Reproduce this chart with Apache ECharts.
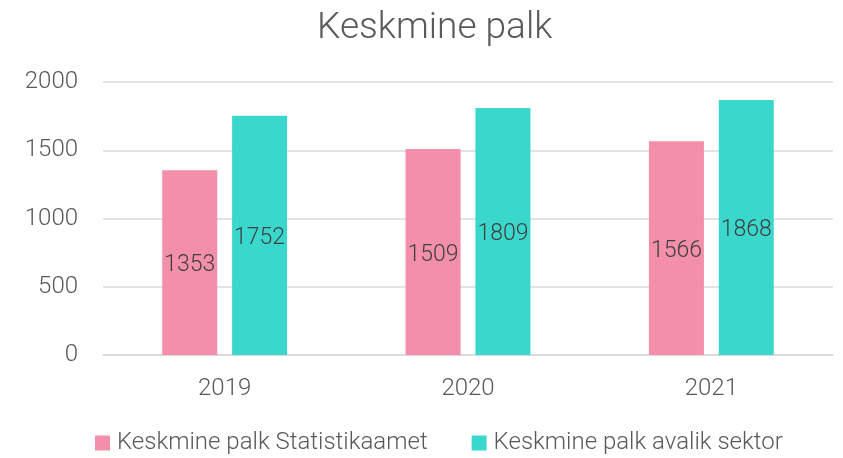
<!DOCTYPE html>
<html>
<head>
<meta charset="utf-8">
<style>
    html, body { margin: 0; padding: 0; background: #fff; }
    #chart { width: 843px; height: 458px; }
</style>
<script src="https://cdn.jsdelivr.net/npm/echarts@6/dist/echarts.min.js"></script>
</head>
<body>
<div id="chart"></div>
<script>
    var years = ['2019', '2020', '2021'];
    var statistikaamet = [1353, 1509, 1566];
    var avalikSektor = [1752, 1809, 1868];
    var yTicks = { min: 0, max: 2000, interval: 500 };

    var font = 'Roboto';
    var textColor = '#595959';

    var myChart = echarts.init(document.getElementById('chart'));
    var labelStyle = {
        show: true,
        position: 'inside',
        offset: [0, 3],
        color: '#404040',
        fontFamily: font,
        fontWeight: 300,
        fontSize: 23
    };
    var options = {
        animation: false,
        title: {
            text: 'Keskmine palk',
            left: 312,
            top: 5,
            textStyle: {
                color: textColor,
                fontFamily: font,
                fontWeight: 300,
                fontSize: 37
            }
        },
        legend: {
            top: 426,
            left: 90,
            itemWidth: 15,
            itemHeight: 15,
            itemGap: 44,
            icon: 'rect',
            textStyle: {
                color: textColor,
                fontFamily: font,
                fontWeight: 300,
                fontSize: 24,
                padding: [0, 0, 0, 2]
            }
        },
        grid: {
            left: 103,
            right: 10,
            top: 82,
            bottom: 103
        },
        xAxis: {
            type: 'category',
            data: years,
            axisTick: { show: false },
            axisLine: { lineStyle: { color: '#d9d9d9', width: 1.5 } },
            axisLabel: {
                color: textColor,
                fontFamily: font,
                fontWeight: 300,
                fontSize: 24,
                margin: 22
            }
        },
        yAxis: {
            type: 'value',
            min: yTicks.min,
            max: yTicks.max,
            interval: yTicks.interval,
            axisLine: { show: false },
            axisTick: { show: false },
            splitLine: { lineStyle: { color: '#d9d9d9', width: 1.5 } },
            axisLabel: {
                color: textColor,
                fontFamily: font,
                fontWeight: 300,
                fontSize: 24,
                margin: 25,
                formatter: function (v) { return String(v); }
            }
        },
        series: [
            {
                name: 'Keskmine palk Statistikaamet',
                type: 'bar',
                data: statistikaamet,
                barWidth: 55,
                barGap: '27%',
                itemStyle: { color: '#F48FAB' },
                label: labelStyle
            },
            {
                name: 'Keskmine palk avalik sektor',
                type: 'bar',
                data: avalikSektor,
                barWidth: 55,
                itemStyle: { color: '#3AD8CC' },
                label: labelStyle
            }
        ]
    };
    myChart.setOption(options);
</script>
</body>
</html>
